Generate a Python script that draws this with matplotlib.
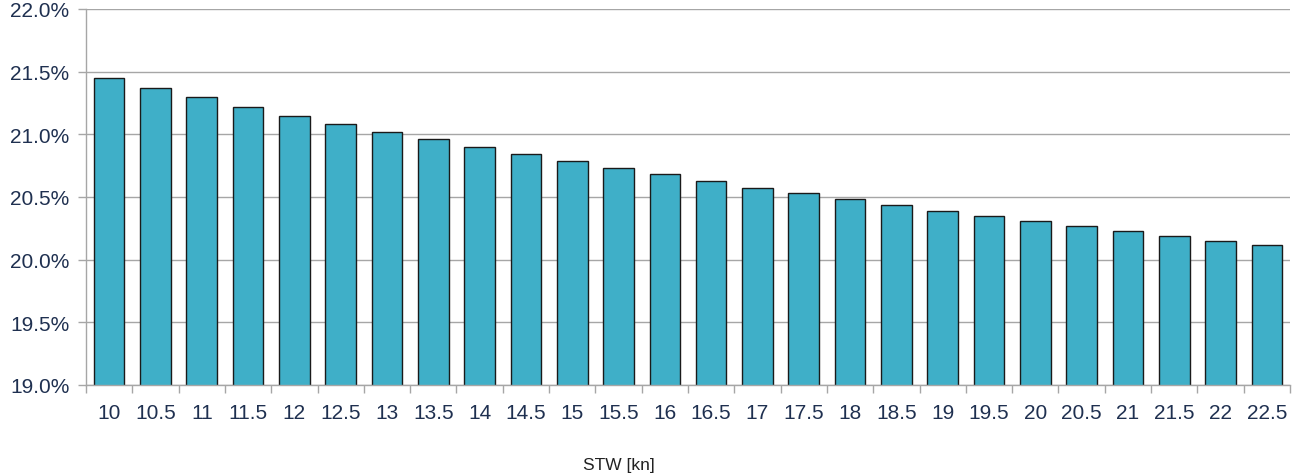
import matplotlib.pyplot as plt
import numpy as np

plt.rcParams['font.family'] = ['Liberation Sans', 'DejaVu Sans']

speeds = ['10', '10.5', '11', '11.5', '12', '12.5', '13', '13.5', '14', '14.5',
          '15', '15.5', '16', '16.5', '17', '17.5', '18', '18.5', '19', '19.5',
          '20', '20.5', '21', '21.5', '22', '22.5']
share = [21.45, 21.37, 21.30, 21.22, 21.15, 21.08, 21.02, 20.96, 20.90, 20.84,
         20.785, 20.73, 20.68, 20.625, 20.575, 20.53, 20.485, 20.44, 20.39, 20.35,
         20.31, 20.27, 20.23, 20.19, 20.15, 20.115]
yticks = [19.0, 19.5, 20.0, 20.5, 21.0, 21.5, 22.0]

txt = '#1F3050'
grid = '#A6A6A6'

fig = plt.figure(figsize=(12.94, 4.77), dpi=100)
ax = fig.add_axes([86/1294, 1 - 386/477, (1290 - 86)/1294, (386 - 10)/477])

x = np.arange(len(speeds))
ax.bar(x, share, width=0.66, bottom=0, color='#3FAFC8', edgecolor='#1a1a1a',
       linewidth=1.0, zorder=3)

ax.set_ylim(19.0, 22.0)
ax.set_xlim(-0.5, len(speeds) - 0.5)
ax.set_yticks(yticks)
ax.set_yticklabels(['%.1f%%' % v for v in yticks])
ax.yaxis.grid(True, color=grid, linewidth=1.0, zorder=0)

ax.set_xticks(x)
ax.set_xticklabels(speeds)
ax.set_xticks(np.arange(-0.5, len(speeds)), minor=True)
ax.tick_params(axis='x', which='major', length=0, pad=13, labelsize=15, labelcolor=txt)
ax.tick_params(axis='x', which='minor', length=6, color=grid, width=1)
ax.tick_params(axis='y', length=6, color=grid, width=1, labelsize=15, labelcolor=txt, pad=6)

for s in ['top', 'right']:
    ax.spines[s].set_visible(False)
for s in ['left', 'bottom']:
    ax.spines[s].set_color(grid)
    ax.spines[s].set_linewidth(1.0)
    ax.spines[s].set_zorder(4)

fig.text(619/1294, 1 - 466/477, 'STW [kn]', ha='center', va='center',
         fontsize=12.5, color='#222222')

fig.savefig('out.png', dpi=100)
